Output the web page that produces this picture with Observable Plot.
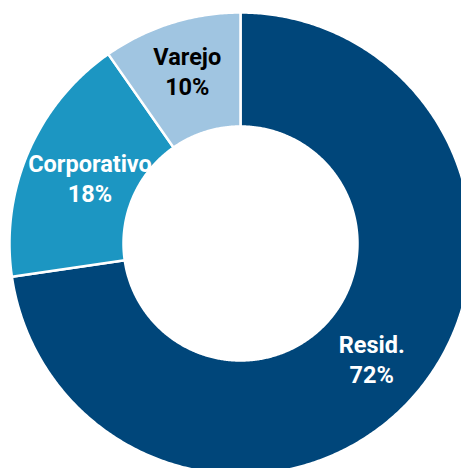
<!DOCTYPE html>
<html>
<head>
<meta charset="utf-8">
<script src="https://cdn.jsdelivr.net/npm/d3@7"></script>
<script src="https://cdn.jsdelivr.net/npm/@observablehq/plot@0.6"></script>
<style>
  html, body { margin: 0; padding: 0; background: white; overflow: hidden; }
  #chart svg { overflow: hidden; display: block; }
</style>
</head>
<body>
<div id="chart"></div>
<script>
const categories = ["Resid.", "Corporativo", "Varejo"];
const shares = [72.7, 17.6, 9.7];          // slice sizes
const percentLabels = ["72%", "18%", "10%"]; // labels as printed on the chart
const colors = ["#00467a", "#1c96c2", "#a0c5e1"];
const labelColors = ["white", "white", "black"];

const outerR = 1, innerR = 117 / 231;
const total = d3.sum(shares);
const slices = [];
let acc = 0;
categories.forEach((c, i) => {
  const a0 = acc / total * 2 * Math.PI;
  acc += shares[i];
  const a1 = acc / total * 2 * Math.PI;
  slices.push({category: c, share: shares[i], label: percentLabels[i], a0, a1, color: colors[i], labelColor: labelColors[i]});
});

function polygon(s) {
  const n = Math.max(8, Math.ceil((s.a1 - s.a0) / (Math.PI / 360)));
  const pts = [];
  for (let k = 0; k <= n; k++) {
    const a = s.a0 + (s.a1 - s.a0) * k / n;
    pts.push({x: outerR * Math.sin(a), y: outerR * Math.cos(a)});
  }
  for (let k = n; k >= 0; k--) {
    const a = s.a0 + (s.a1 - s.a0) * k / n;
    pts.push({x: innerR * Math.sin(a), y: innerR * Math.cos(a)});
  }
  pts.push(pts[0]);
  return pts;
}

// label radius: wide labels sit a little further in
function labelRadius(s) {
  return s.category.length > 8 ? 0.712 : (s.share < 15 ? 0.785 : 0.756);
}
const labels = slices.map(s => {
  const m = (s.a0 + s.a1) / 2 + 0.4 * Math.PI / 180;
  const r = labelRadius(s);
  return {x: r * Math.sin(m), y: r * Math.cos(m), text: `${s.category}\n${s.label}`, fill: s.labelColor};
});

const W = 461, H = 468, cx = 240, cy = 243, R = 231;
const plot = Plot.plot({
  width: W, height: H,
  margin: 0,
  x: {domain: [-cx / R, (W - cx) / R], axis: null},
  y: {domain: [-(H - cy) / R, cy / R], axis: null},
  marks: [
    ...slices.map(s => Plot.line(polygon(s), {x: "x", y: "y", fill: s.color, stroke: "white", strokeWidth: 2.5, curve: "linear"})),
    Plot.text(labels, {
      x: "x", y: "y", text: "text", fill: "fill",
      fontSize: 23.5, fontWeight: "bold", lineHeight: 1.28,
      fontFamily: "Roboto, 'Liberation Sans', sans-serif",
      textAnchor: "middle", lineAnchor: "middle"
    })
  ]
});
document.getElementById("chart").appendChild(plot);
</script>
</body>
</html>
